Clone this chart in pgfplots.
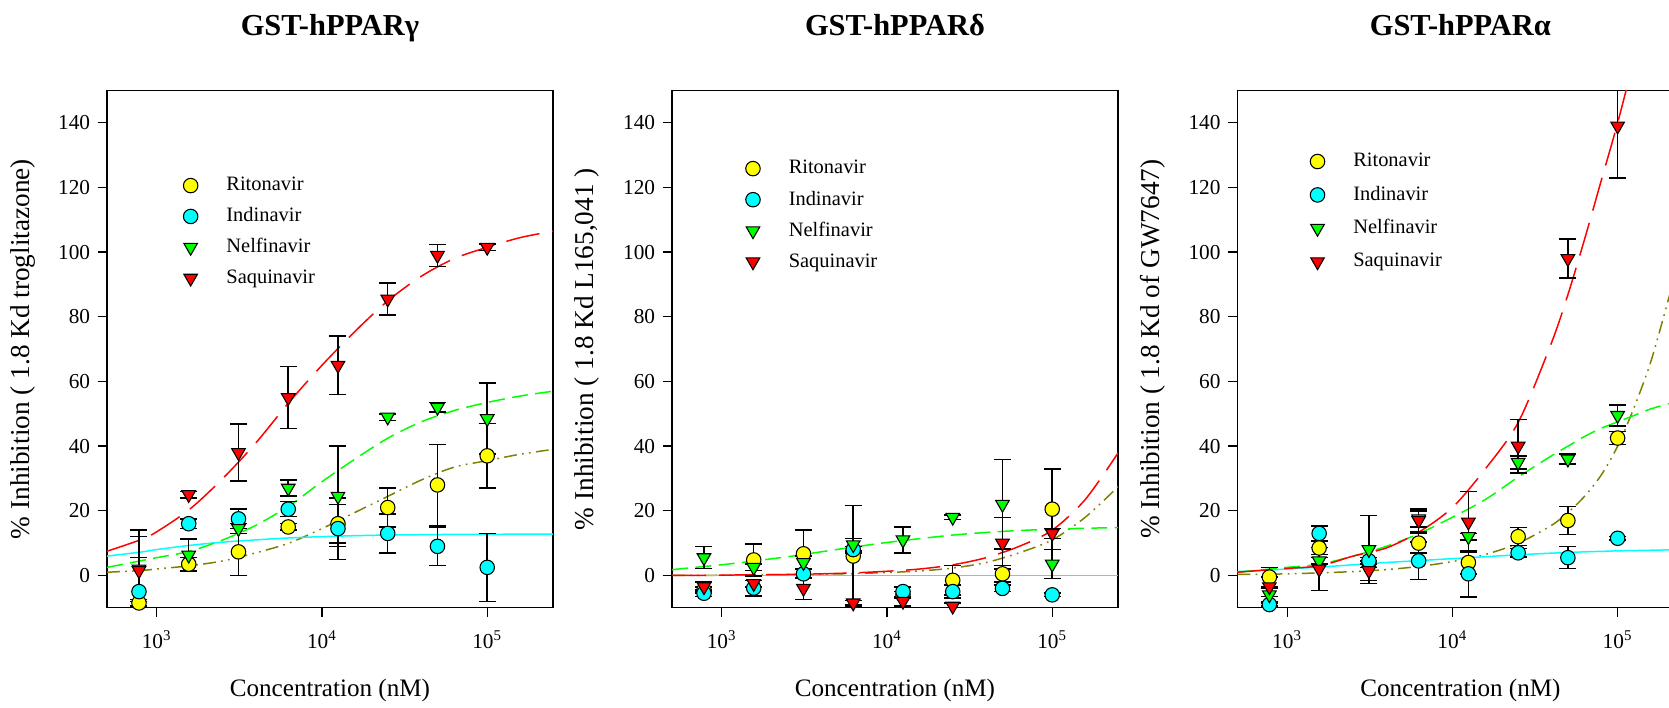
\documentclass[border=0pt]{standalone}
\usepackage{fontspec}
\setmainfont{Liberation Serif}
\usepackage{pgfplots}
\usepackage{pgfplotstable}
\pgfplotsset{compat=1.18}

\definecolor{cRit}{RGB}{255,255,0}
\definecolor{cInd}{RGB}{0,255,255}
\definecolor{cNelf}{RGB}{0,255,0}
\definecolor{cSaq}{RGB}{255,0,0}
\definecolor{cFit}{RGB}{128,128,0}

% measured points: x rit erit ind eind nelf enelf saq esaq
\pgfplotstableread{
x      rit  erit ind  eind nelf enelf saq   esaq
781    -8.5 1    -5   10.5 2    10    1.5   12.5
1562   3.5  2    16   1.5  6.3  4.9   25    1
3125   7.3  7.3  17.5 3    14.5 1.5   38    8.8
6250   15   1    20.5 2.3  27   2.5   55    9.6
12500  16   6    14.5 9.5  24.5 15.5  65    9
25000  21   6    13   6    49   1     85.5  5
50000  28   12.5 9    6    52   1.5   99    3.4
100000 37   10   2.5  10.5 48.5 11    101.5 1
}\gammadata

\pgfplotstableread{
x      rit  erit ind  eind nelf enelf saq  esaq
781    -4.5 1    -5.5 1    5.5  3.4   -3.5 1.5
1562   4.8  5    -3.9 2.4  2.5  1     -2.5 1
3125   6.7  7.3  0.5  1.3  4    2     -4   3.4
6250   6    15.6 8    1    9.5  2     -8.5 0.7
12500  -6   1    -5   1.5  11   4     -8   1.5
25000  -1.5 4.6  -5   2    18   0.7   -9.5 1
50000  0.5  2.6  -4   1    22   13.8  10   8
100000 20.5 12.4 -6   0.5  3.5  4.5   13   1.5
}\deltadata

\pgfplotstableread{
x      rit  erit ind  eind nelf enelf saq  esaq
781    -0.5 3    -9   0.5  -6   2     -3.5 3
1562   8.5  2    13   2.3  4.5  1     2    6.7
3125   4    1.5  4.5  1    8    10.5  1.5  3
6250   10   3    4.5  5.8  17.5 2.5   17   3.5
12500  4    3.5  0.5  7.1  12   1     16.5 9.4
25000  12   2.8  7    1.3  35   2     40   8.3
50000  17   4.4  5.5  3.4  36   1.5   98   6
100000 42.5 2    11.5 0.5  49.5 3.2   139  16
}\alphadata

% fitted curves
\pgfplotstableread{
x      rit  ind  nelf saq
501    1    6    2.5  7.5
794    1.5  7.2  4.5  11
1000   2    8    5.5  13.5
1585   3    9.3  7.5  20.5
2512   4.5  10.3 11   30
3981   7    11   15.5 41
6310   10   11.6 21.5 53.5
10000  14.5 12   29   65
15849  19.5 12.3 36   75.5
25119  24.5 12.5 42.5 85
39811  29.5 12.6 47.5 92.5
63096  33.5 12.7 51   98
100000 35.5 12.7 53.5 101.5
158489 37.5 12.8 55.5 104.5
251189 39   12.8 57   106.5
}\gammafit

\pgfplotstableread{
x      rit  ind nelf saq
501    0    0   1.8  0
794    0    0   2.8  0
1000   0.1  0   3.3  0.1
1585   0.2  0   4.5  0.2
2512   0.3  0   5.8  0.3
3981   0.4  0   7.3  0.5
6310   0.6  0   8.8  0.8
10000  0.9  0   10.2 1.3
15849  1.4  0   11.4 2
25119  2.3  0   12.5 3.3
39811  4    0   13.3 5.5
63096  7    0   13.9 9
100000 11   0   14.3 14
158489 18   0   14.6 23.5
251189 27.5 0   14.8 38
}\deltafit

\pgfplotstableread{
x      rit  ind  nelf saq
501    0.3  1.2  1    1
794    0.4  1.7  2    1.8
1000   0.5  2    2.5  2.2
1585   0.8  2.6  3.5  3
2512   1.2  3.3  6    6
3981   1.8  4    9    8.5
6310   2.8  4.6  13   13.5
10000  4.3  5.2  18   21
15849  6.5  5.8  23.5 33
25119  10   6.4  30.5 47.5
39811  15.5 6.9  37   72
50119  19.5 7.1  40   87
63096  24.5 7.3  43   104
79433  31   7.45 45.5 122
100000 40   7.6  47.5 140
125893 52   7.7  49.5 160
158489 66   7.8  51.5 182
199526 84   7.9  53   205
251189 103  8    54.5 230
}\alphafit

\newcommand{\panelplots}[2]{%
  \addlegendimage{only marks, mark=*, mark size=3.4pt, mark options={draw=black, fill=cRit, line width=0.5pt}}
  \addlegendentry{Ritonavir}
  \addlegendimage{only marks, mark=*, mark size=3.4pt, mark options={draw=black, fill=cInd, line width=0.5pt}}
  \addlegendentry{Indinavir}
  \addlegendimage{only marks, mark=triangle*, mark size=3.7pt, mark options={rotate=180, draw=black, fill=cNelf, line width=0.5pt}}
  \addlegendentry{Nelfinavir}
  \addlegendimage{only marks, mark=triangle*, mark size=3.7pt, mark options={rotate=180, draw=black, fill=cSaq, line width=0.5pt}}
  \addlegendentry{Saquinavir}
  \addplot[cFit, line width=0.7pt, smooth, forget plot,
    dash pattern=on 6pt off 2.5pt on 0.8pt off 2.5pt on 0.8pt off 2.5pt]
    table[x=x, y=rit] {#2};
  \addplot[cInd, line width=0.7pt, smooth, forget plot] table[x=x, y=ind] {#2};
  \addplot[cNelf, line width=0.7pt, smooth, forget plot, dash pattern=on 7.5pt off 3.5pt]
    table[x=x, y=nelf] {#2};
  \addplot[cSaq, line width=0.7pt, smooth, forget plot, dash pattern=on 16pt off 6pt]
    table[x=x, y=saq] {#2};
  \addplot[only marks, mark=*, mark size=3.4pt, forget plot,
    mark options={draw=black, fill=cRit, line width=0.5pt},
    error bars/y dir=both, error bars/y explicit,
    error bars/error bar style={black, line width=0.7pt},
    error bars/error mark options={rotate=90, black, mark size=4pt, line width=0.7pt}]
    table[x=x, y=rit, y error=erit] {#1};
  \addplot[only marks, mark=*, mark size=3.4pt, forget plot,
    mark options={draw=black, fill=cInd, line width=0.5pt},
    error bars/y dir=both, error bars/y explicit,
    error bars/error bar style={black, line width=0.7pt},
    error bars/error mark options={rotate=90, black, mark size=4pt, line width=0.7pt}]
    table[x=x, y=ind, y error=eind] {#1};
  \addplot[only marks, mark=triangle*, mark size=3.7pt, forget plot,
    mark options={rotate=180, draw=black, fill=cNelf, line width=0.5pt},
    error bars/y dir=both, error bars/y explicit,
    error bars/error bar style={black, line width=0.7pt},
    error bars/error mark options={rotate=90, black, mark size=4pt, line width=0.7pt}]
    table[x=x, y=nelf, y error=enelf] {#1};
  \addplot[only marks, mark=triangle*, mark size=3.7pt, forget plot,
    mark options={rotate=180, draw=black, fill=cSaq, line width=0.5pt},
    error bars/y dir=both, error bars/y explicit,
    error bars/error bar style={black, line width=0.7pt},
    error bars/error mark options={rotate=90, black, mark size=4pt, line width=0.7pt}]
    table[x=x, y=saq, y error=esaq] {#1};
}

\begin{document}
\begin{tikzpicture}

\begin{semilogxaxis}[at={(50.25pt,47pt)}, anchor=south west,
    scale only axis, width=209.5pt, height=243pt,
    xmin=500, xmax=250000, ymin=-10, ymax=150,
    xtick={1000,10000,100000},
    xticklabels={10\textsuperscript{3},10\textsuperscript{4},10\textsuperscript{5}},
    ytick={0,20,40,60,80,100,120,140},
    yticklabels={0,20,40,60,80,100,120,140},
    xminorticks=false,
    tick align=outside, xtick pos=bottom, ytick pos=left,
    major tick length=4.4pt,
    tick style={black, line width=0.6pt},
    axis line style={line width=0.6pt},
    tick label style={font=\fontsize{10}{12}\selectfont},
    xticklabel style={anchor=center, yshift=-10.5pt},
    xlabel={Concentration (nM)},
    xlabel style={at={(axis description cs:0.5,0)}, anchor=center, yshift=-39pt,
      font=\fontsize{11.8}{14}\selectfont},
    ylabel style={at={(axis description cs:-0.188,0.5)}, anchor=center,
      font=\fontsize{12.8}{15}\selectfont},
    title style={at={(axis description cs:0.5,1)}, anchor=base, yshift=20pt,
      font=\bfseries\fontsize{14.3}{17}\selectfont},
    legend cell align=left,
    legend style={draw=none, fill=none, inner sep=0pt, outer sep=0pt,
      column sep=10.8pt, row sep=0pt, anchor=north west,
      font=\fontsize{9.6}{11}\selectfont, nodes={inner sep=0pt},
      at={(axis description cs:0.159,0.846)}},
    legend image code/.code={\path[draw=none, fill=none] (-6pt,-7.25pt) rectangle (6pt,7.25pt);
      \draw[#1] plot coordinates {(0pt,0pt)};},
    title={GST-hPPARγ},
    ylabel={\% Inhibition ( 1.8 Kd troglitazone)}]
\panelplots{\gammadata}{\gammafit}
\end{semilogxaxis}

\begin{semilogxaxis}[at={(315.65pt,47pt)}, anchor=south west,
    scale only axis, width=209.5pt, height=243pt,
    xmin=500, xmax=250000, ymin=-10, ymax=150,
    xtick={1000,10000,100000},
    xticklabels={10\textsuperscript{3},10\textsuperscript{4},10\textsuperscript{5}},
    ytick={0,20,40,60,80,100,120,140},
    yticklabels={0,20,40,60,80,100,120,140},
    xminorticks=false,
    tick align=outside, xtick pos=bottom, ytick pos=left,
    major tick length=4.4pt,
    tick style={black, line width=0.6pt},
    axis line style={line width=0.6pt},
    tick label style={font=\fontsize{10}{12}\selectfont},
    xticklabel style={anchor=center, yshift=-10.5pt},
    xlabel={Concentration (nM)},
    xlabel style={at={(axis description cs:0.5,0)}, anchor=center, yshift=-39pt,
      font=\fontsize{11.8}{14}\selectfont},
    ylabel style={at={(axis description cs:-0.19,0.5)}, anchor=center,
      font=\fontsize{12.8}{15}\selectfont},
    title style={at={(axis description cs:0.5,1)}, anchor=base, yshift=20pt,
      font=\bfseries\fontsize{14.3}{17}\selectfont},
    legend cell align=left,
    legend style={draw=none, fill=none, inner sep=0pt, outer sep=0pt,
      column sep=10.8pt, row sep=0pt, anchor=north west,
      font=\fontsize{9.6}{11}\selectfont, nodes={inner sep=0pt},
      at={(axis description cs:0.153,0.879)}},
    legend image code/.code={\path[draw=none, fill=none] (-6pt,-7.3pt) rectangle (6pt,7.3pt);
      \draw[#1] plot coordinates {(0pt,0pt)};},
    title={GST-hPPARδ},
    ylabel={\% Inhibition ( 1.8 Kd L165,041 )}]
\panelplots{\deltadata}{\deltafit}
\end{semilogxaxis}

\begin{semilogxaxis}[at={(581.25pt,47pt)}, anchor=south west,
    scale only axis, width=209.5pt, height=243pt,
    xmin=500, xmax=250000, ymin=-10, ymax=150,
    xtick={1000,10000,100000},
    xticklabels={10\textsuperscript{3},10\textsuperscript{4},10\textsuperscript{5}},
    ytick={0,20,40,60,80,100,120,140},
    yticklabels={0,20,40,60,80,100,120,140},
    xminorticks=false,
    tick align=outside, xtick pos=bottom, ytick pos=left,
    major tick length=4.4pt,
    tick style={black, line width=0.6pt},
    axis line style={line width=0.6pt},
    tick label style={font=\fontsize{10}{12}\selectfont},
    xticklabel style={anchor=center, yshift=-10.5pt},
    xlabel={Concentration (nM)},
    xlabel style={at={(axis description cs:0.5,0)}, anchor=center, yshift=-39pt,
      font=\fontsize{11.8}{14}\selectfont},
    ylabel style={at={(axis description cs:-0.19,0.5)}, anchor=center,
      font=\fontsize{12.8}{15}\selectfont},
    title style={at={(axis description cs:0.5,1)}, anchor=base, yshift=20pt,
      font=\bfseries\fontsize{14.3}{17}\selectfont},
    legend cell align=left,
    legend style={draw=none, fill=none, inner sep=0pt, outer sep=0pt,
      column sep=10.8pt, row sep=0pt, anchor=north west,
      font=\fontsize{9.6}{11}\selectfont, nodes={inner sep=0pt},
      at={(axis description cs:0.151,0.895)}},
    legend image code/.code={\path[draw=none, fill=none] (-6pt,-7.85pt) rectangle (6pt,7.85pt);
      \draw[#1] plot coordinates {(0pt,0pt)};},
    title={GST-hPPARα},
    ylabel={\% Inhibition ( 1.8 Kd of GW7647)}]
\panelplots{\alphadata}{\alphafit}
\end{semilogxaxis}

\pgfresetboundingbox
\path[use as bounding box] (0,0) rectangle (784pt,332.5pt);
\end{tikzpicture}
\end{document}
